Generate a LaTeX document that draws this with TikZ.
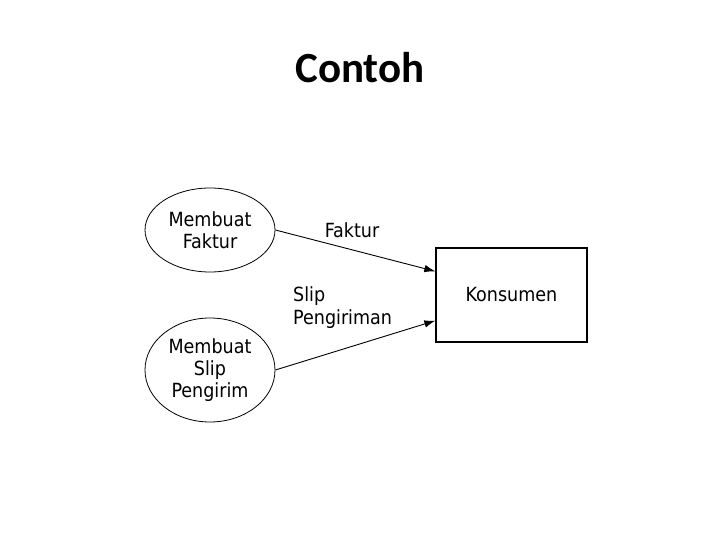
\documentclass[tikz,border=0pt]{standalone}
\usepackage{fontspec}
\setmainfont{Carlito}
\newfontfamily\dfdfont{DejaVu Sans Condensed}
\usepackage{tikz}
\usetikzlibrary{arrows.meta, positioning, shapes.geometric, calc}
\tikzset{
  dfd-proc/.style={
    ellipse, draw=black, line width=0.8bp, inner sep=0pt,
    minimum width=130bp, align=center, font=\dfdfont\fontsize{19.5bp}{22bp}\selectfont
  },
  dfd-ent/.style={
    rectangle, draw=black, line width=1.3bp, minimum width=151bp,
    minimum height=94bp, align=center, font=\dfdfont\fontsize{19.5bp}{22bp}\selectfont
  },
  dfd-flow/.style={-{Latex[length=11bp,width=7.5bp]}, line width=0.9bp, draw=black},
  dfd-lbl/.style={align=left, inner sep=0pt, font=\dfdfont\fontsize{19.5bp}{23bp}\selectfont},
}
\begin{document}
\begin{tikzpicture}[x=1bp, y=-1bp]
  \useasboundingbox[fill=white] (0,0) rectangle (720,540);
  \node[font=\bfseries\fontsize{43bp}{50bp}\selectfont] (title) at (360,68) {Contoh};

  \node[dfd-proc, minimum height=84bp] (faktur) at (210,230) {Membuat\\Faktur};
  \node[dfd-proc, minimum height=104bp] (slip) at (210,370) {Membuat\\Slip\\Pengirim};
  \node[dfd-ent] (kons) at (511.5,295) {Konsumen};

  % arrow ends on the left side of the entity box
  \coordinate (kfak) at ($(kons.north west)+(0,24)$);
  \coordinate (kslip) at ($(kons.south west)+(0,-22)$);

  \draw[dfd-flow] (faktur.east) -- (kfak);
  \draw[dfd-flow] (slip.east) -- (kslip);

  \node[dfd-lbl] (lfak) at (352,230) {Faktur};
  \node[dfd-lbl, anchor=west] (lslip) at (293,308) {Slip\\Pengiriman};
\end{tikzpicture}
\end{document}
